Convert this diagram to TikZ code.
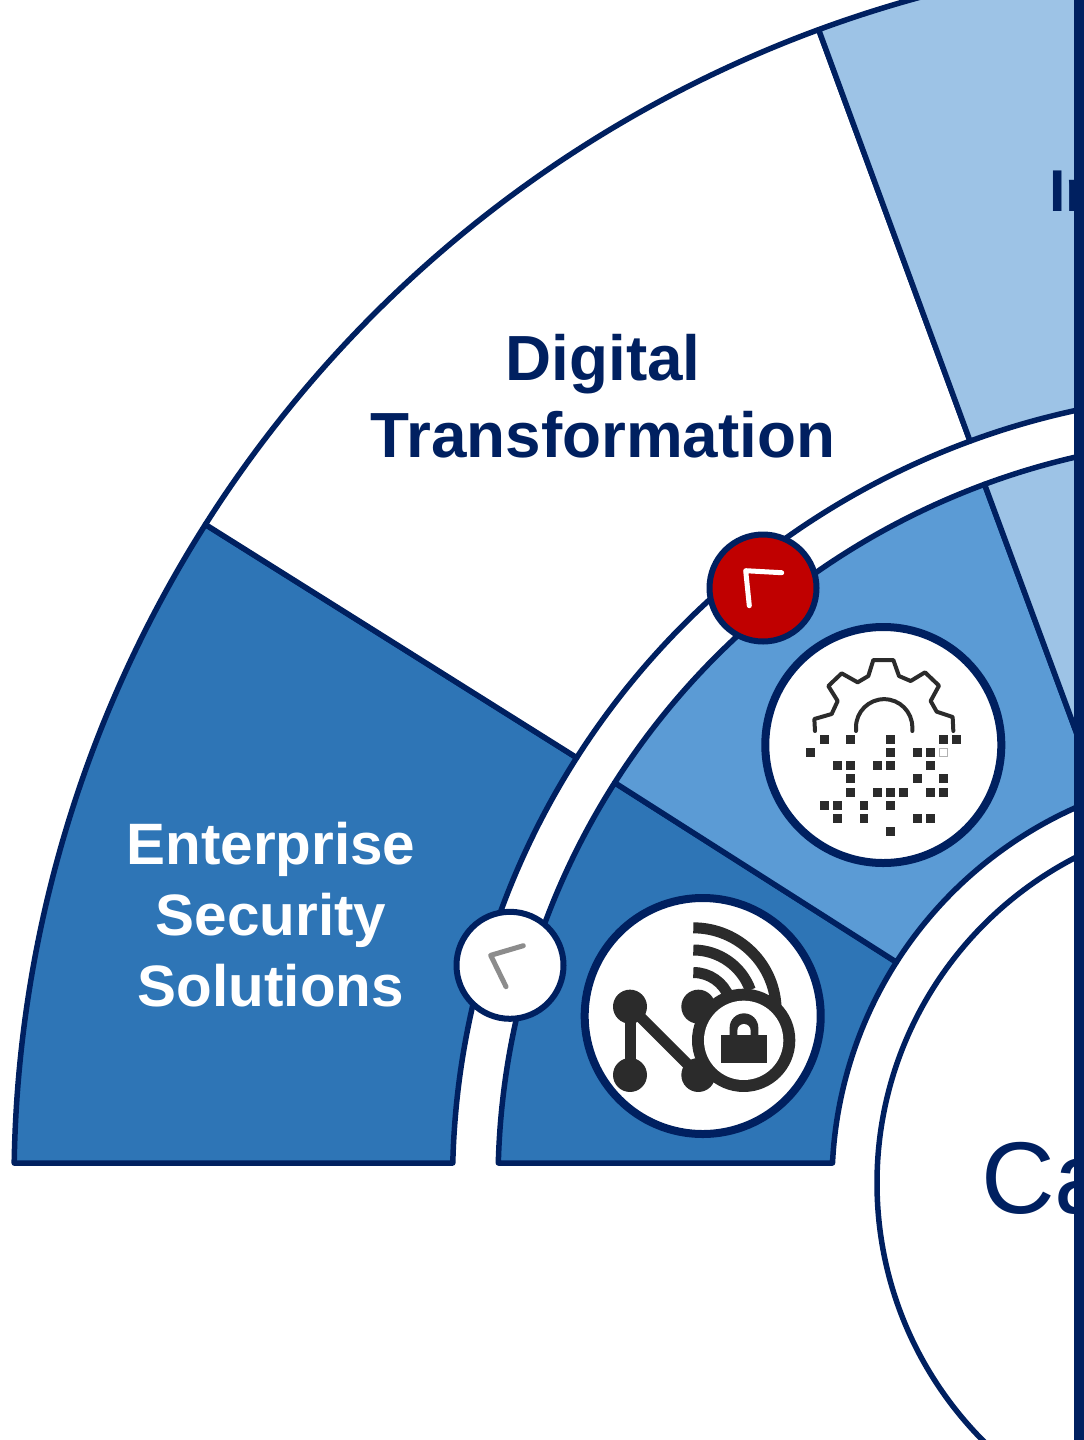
\documentclass[tikz,border=0pt]{standalone}
\usepackage{fontspec}
\setmainfont{Liberation Sans}
\definecolor{navy}{HTML}{002060}
\definecolor{bluedark}{HTML}{2E75B6}
\definecolor{bluemid}{HTML}{5B9BD5}
\definecolor{bluelight}{HTML}{9DC3E6}
\definecolor{alertred}{HTML}{C00000}
\definecolor{ink}{HTML}{2B2B2B}
\definecolor{chevgrey}{HTML}{8C8C8C}
\newcommand{\ringsector}[7]{\draw[sectorline,fill=#7] (#1:#3) arc[start angle=#1,end angle=#2,radius=#3] -- (#4:#6) arc[start angle=#4,end angle=#5,radius=#6] -- cycle;}
\tikzset{
  sectorline/.style={draw=navy,line width=5.5pt,line join=round},
  badge/.style={draw=navy,line width=6pt},
  iconring/.style={draw=navy,line width=8pt,fill=white},
  chevron/.style={line width=5pt,line cap=round,line join=round},
  bigtext/.style={font=\bfseries\fontsize{63.8}{77}\selectfont,text=navy,align=center,inner sep=0pt},
  whitetext/.style={font=\bfseries\fontsize{58.4}{71}\selectfont,text=white,align=center,inner sep=0pt},
}
\begin{document}
\begin{tikzpicture}[x=1pt,y=1pt,yscale=-1]
\useasboundingbox (0,0) rectangle (1084,1440);
\clip (0,0) rectangle (1084,1440);
\fill[white] (0,0) rectangle (1084,1440);
\begin{scope}[shift={(1243,1183)}]
  \ringsector{180.93}{212.4}{1229}{212.55}{181.45}{790.5}{bluedark}
  \ringsector{212.4}{249.8}{1229}{249.8}{212.55}{790.5}{white}
  \ringsector{249.8}{290}{1229}{290}{249.8}{790.5}{bluelight}
  \ringsector{181.54}{212.5}{745}{212.5}{182.79}{411}{bluedark}
  \ringsector{212.5}{249.7}{745}{249.7}{212.5}{411}{bluemid}
  \ringsector{249.7}{290}{745}{290}{249.7}{411}{bluelight}
  \draw[draw=navy,line width=5.5pt,fill=white] (0,0) circle[radius=366];
\end{scope}
% badges
\node[circle,badge,fill=alertred,minimum size=107pt,inner sep=0pt] (redbadge) at (763,588) {};
\node[circle,badge,fill=white,minimum size=107pt,inner sep=0pt] (whitebadge) at (510,965.3) {};
\draw[chevron,white] (781.7,572.7) -- (745.7,570.7) -- (749.3,605.7);
\draw[chevron,chevgrey] (523.3,945.7) -- (490.7,955.3) -- (506,986.7);
% icon circles
\node[circle,iconring,minimum size=236pt,inner sep=0pt] (gearring) at (883.3,745) {};
\node[circle,iconring,minimum size=236pt,inner sep=0pt] (netring) at (702.7,1016) {};
% gear icon
\begin{scope}[shift={(760,620)},scale=0.3333]
  \draw[ink,line width=4pt,line cap=round,line join=round] (165,333) -- (163,297) -- (215,282) -- (233,243) -- (205,198) -- (245,160) -- (293,187) -- (325,168) -- (340,120) -- (400,120) -- (417,168) -- (452,183) -- (495,157) -- (537,197) -- (512,243) -- (530,275) -- (578,291) -- (580,333);
  \draw[ink,line width=4pt,line cap=round] (288,333) -- (288,322) arc[start angle=180,end angle=360,radius=84.5] -- (457,333);
  \foreach \px/\py in {192/359,272/359,392/359,551/359,591/359,
    152/398,392/398,472/398,511/398,
    232/438,272/438,352/438,392/438,511/438,
    272/477,472/477,551/477,
    272/517,352/517,392/517,431/517,511/517,551/517,
    192/556,232/556,312/556,392/556,
    232/596,312/596,472/596,511/596,
    392/635}
    \fill[ink] (\px-13.5,\py-13.5) rectangle (\px+13.5,\py+13.5);
  \draw[gray!60,line width=1pt] (551-12,398-12) rectangle (551+12,398+12);
\end{scope}
% network icon
\begin{scope}[shift={(580,890)},scale=0.3333]
  \draw[ink,line width=11pt] (150,350) -- (150,555);
  \draw[ink,line width=11pt] (150,350) -- (355,555);
  \fill[ink] (150,350) circle[radius=51];
  \fill[ink] (355,350) circle[radius=51];
  \fill[ink] (150,555) circle[radius=51];
  \fill[ink] (355,555) circle[radius=51];
  \draw[ink,line width=11pt] (340,113.5) arc[start angle=270,end angle=360,radius=248.5];
  \draw[ink,line width=11pt] (340,180) arc[start angle=270,end angle=340,radius=182];
  \draw[ink,line width=11pt] (340,247.5) arc[start angle=270,end angle=340,radius=114.5];
  \fill[ink] (491,451) circle[radius=155];
  \fill[white] (491,451) circle[radius=119];
  \fill[ink] (449,436) -- (449,413) arc[start angle=180,end angle=360,radius=43] -- (535,436) -- cycle;
  \fill[white] (472,437) -- (472,422) arc[start angle=180,end angle=360,radius=20] -- (512,437) -- cycle;
  \fill[ink] (424,436) rectangle (560,520);
\end{scope}
% labels
\node[bigtext] (digital) at (603,396) {Digital\\Transformation};
\node[whitetext] (security) at (271,915) {Enterprise\\Security\\Solutions};
\node[font=\bfseries\fontsize{59}{59}\selectfont,text=navy,anchor=base west,inner sep=0pt] (rightlabel) at (1049,211) {In};
\node[font=\fontsize{102}{102}\selectfont,text=navy,anchor=base west,inner sep=0pt] (centerlabel) at (981,1213) {Ca};
\fill[navy] (1074,0) rectangle (1084,1440);
\end{tikzpicture}
\end{document}
